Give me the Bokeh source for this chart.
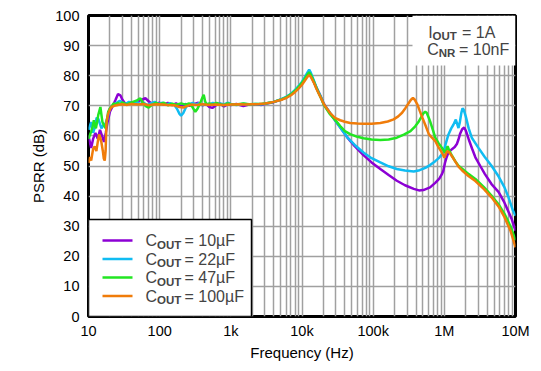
from bokeh.plotting import figure
from bokeh.models import FixedTicker, Label, BoxAnnotation, Range1d
from bokeh.embed import file_html
from bokeh.resources import INLINE

# ---------------- data ----------------
f_10u = [10, 10.9, 11.6, 12.5, 13.5, 14.5, 15.5, 16.5, 17.5, 18.5, 20, 22, 24, 26, 28, 30, 33, 36, 40, 45,
         50, 56, 63, 70, 80, 90, 100, 115, 130, 150, 170, 200, 230, 260, 300, 350, 400, 450, 500, 550,
         620, 700, 800, 900, 1000, 1200, 1500, 1800, 2200, 2700, 3300, 4000, 5000, 6000, 7000, 8000,
         9000, 10000, 11000, 12000, 12600, 13300, 14500, 16000, 18000, 20000, 22500, 25000, 30000,
         35000, 43000, 55000, 73000, 95000, 126000, 165000, 215000, 280000, 372000, 440000, 508000,
         630000, 745000, 850000, 920000, 970000, 1020000, 1080000, 1140000, 1280000, 1400000, 1500000,
         1580000, 1660000, 1780000, 1900000, 2000000, 2200000, 2450000, 2730000, 3200000, 3700000,
         4600000, 5800000, 7000000, 8800000, 10000000]
db_10u = [60, 56, 59, 61, 59, 62, 60, 58, 61, 64.5, 68, 70, 72, 73.9, 73.5, 72, 70.6, 70.8, 71.2, 70.8,
          71.6, 72, 72.5, 71.5, 70.5, 70.8, 71, 70.4, 71, 70.2, 70.8, 69.8, 70.6, 70, 70.5, 71, 70.2, 70.6, 69.6, 69.3,
          70.2, 70.8, 69.8, 70.5, 70.3, 70.6, 69.9, 70.4, 70.5, 70.3, 70.8, 71.2, 72, 72.8, 73.8, 75,
          76.2, 77.5, 79, 80.4, 81, 80.2, 78.2, 76, 73.5, 71, 69, 67.4, 64.8,
          62.6, 59.6, 56.6, 53.6, 51.2, 49, 47, 45.1, 43.6, 42.4, 41.9, 42,
          42.9, 44.4, 45.8, 47.2, 48.5, 51, 53, 54.5, 55.6, 56.3, 57.3,
          58.8, 60.6, 62.2, 62.8, 61.8, 58.9, 55.8, 52.9, 50, 47.4,
          44, 41.3, 37.8, 32.5, 28.5]

f_22u = [10, 10.9, 11.6, 12.3, 13, 13.7, 14.5, 15.2, 16.2, 17.3, 18.3, 19.9, 21.5, 23.4, 25.5, 27.5, 30, 33,
         37, 42, 47, 53, 60, 67, 75, 85, 95, 110, 125, 140, 160, 175, 190, 200, 215, 235, 260, 290, 320,
         360, 400, 450, 500, 560, 630, 700, 800, 900, 1000, 1200, 1500, 1800, 2200, 2700, 3300, 4000,
         5000, 6000, 7000, 8000, 9000, 10000, 11000, 12000, 12600, 13300, 14800, 16000, 17300, 18500,
         20300, 22500, 24900, 30000, 35000, 43000, 55000, 73000, 95000, 126000, 165000, 215000, 280000,
         372000, 450000, 541000, 630000, 745000, 850000, 970000, 1050000, 1140000, 1250000, 1340000,
         1450000, 1520000, 1580000, 1650000, 1730000, 1800000, 1880000, 2000000, 2200000, 2430000,
         3000000, 3700000, 4600000, 5800000, 7000000, 8000000, 9200000, 10000000]
db_22u = [62, 64.6, 61, 62.9, 66, 65.7, 64, 62.5, 63.5, 64, 65.7, 69, 70, 70.6, 71.2, 71.7, 71, 70.6,
          71.3, 70.8, 71.4, 70.6, 71, 70.2, 70.8, 71.3, 70.6, 71, 70.4, 70.9, 70.3, 69, 67.3, 66.7, 67.6, 69.6, 70.5, 71, 70.4,
          70.9, 70.2, 70.8, 70.4, 71, 70.3, 70.8, 70.5, 71, 70.6, 70.3, 70.7, 70.4, 70.6, 70.5, 70.9, 71.3,
          72.1, 73, 74, 75.3, 76.6, 78, 79.6, 81.2, 82, 81, 78.2, 76, 74.3, 72.8,
          70.5, 69, 67.6, 64.8, 62.5, 59.6, 57, 54.5, 52.6, 51.2, 49.9, 49, 48.5,
          48.2, 48.6, 49.4, 50.3, 51.6, 52.8, 54.6, 57.5, 60.4, 62.5, 63.7,
          65.4, 63.8, 62.6, 64.5, 67.5, 69.2, 68.6, 66.5, 62.5, 59.4,
          56.1, 53, 50.1, 46.5, 42.9, 39.5, 35.2, 33.5]

f_47u = [10, 10.9, 11.4, 11.9, 12.3, 12.7, 13.2, 13.7, 14.7, 15.2, 15.7, 16.5, 17.5, 18.2, 18.9, 20, 21, 22.5,
         24, 26, 28, 30, 34, 38, 43, 48, 53.6, 58, 63, 70, 78, 88, 100, 115, 130, 150, 170, 200, 230, 260,
         290, 317, 340, 370, 395, 416, 435, 460, 500, 560, 630, 700, 800, 900, 1000, 1200, 1500, 1800,
         2200, 2700, 3300, 4000, 5000, 6000, 7000, 8000, 9000, 10000, 11000, 12000, 12600, 13300, 14800,
         16000, 17300, 18500, 20300, 22500, 24900, 30000, 34400, 40000, 47500, 60000, 73000, 95000,
         126000, 165000, 215000, 270000, 334000, 390000, 440000, 480000, 508000, 540000, 565000, 600000,
         630000, 690000, 745000, 830000, 920000, 1020000, 1070000, 1110000, 1170000, 1280000, 1430000,
         1580000, 1780000, 2200000, 2730000, 3600000, 4600000, 5800000, 7000000, 8500000, 10000000]
db_47u = [59, 61.4, 63, 65.2, 63.5, 62.5, 64.5, 66.9, 69.6, 67, 64.6, 63.5, 62.5, 65.5, 68, 69.2, 69.6, 70.8,
          70.4, 71, 70.5, 71.2, 70.4, 70.9, 71.4, 71.8, 72.5, 71, 70, 69.4, 70.3, 71, 70.5, 71, 70.2, 70.7, 70.4, 70.8, 70.4, 70.8,
          69.5, 68, 69, 70.8, 72.5, 73.7, 71.5, 70.2, 70.8, 70.4, 71, 70.5, 70.2, 70.8, 70.5, 70.4, 70.8, 70.5,
          70.6, 70.6, 70.9, 71.3, 72, 72.8, 73.8, 75, 76.3, 77.6, 79.1, 80.5, 81.1, 80.3, 77.8,
          75.8, 74, 72.6, 70.3, 68.7, 67.1, 65, 63.3, 61.6, 60.6, 59.7, 59.2, 58.8,
          58.6, 58.8, 59.4, 60.4, 61.6, 63.2, 64.9, 66.5, 67.5, 68, 67.7, 66.2,
          64.9, 62, 59.4, 57.6, 56.1, 54.5, 55.5, 56.6, 55.2, 53.4, 51.5,
          50.1, 49.1, 47.3, 45.7, 43, 40.2, 37.2, 34.1, 30, 25.3]

f_100u = [10, 10.5, 10.9, 11.6, 12.2, 12.9, 13.5, 14.1, 14.6, 15.2, 15.9, 16.4, 16.9, 17.4, 17.9, 18.9, 20, 21,
          23, 25, 27.5, 30, 35, 40, 50, 60, 70, 80, 100, 130, 160, 190, 216, 240, 280, 330, 400, 500, 600,
          800, 1000, 1300, 1600, 2000, 2500, 3000, 3500, 4000, 5000, 6000, 7000, 8000, 9000, 10000, 11000,
          12000, 12600, 13300, 14800, 16000, 17300, 18500, 20300, 22500, 24900, 29000, 34400, 40000, 47500,
          60000, 73000, 95000, 126000, 160000, 194000, 225000, 255000, 285000, 318000, 340000, 362000,
          385000, 417000, 450000, 490000, 541000, 605000, 670000, 745000, 830000, 920000, 1000000, 1050000,
          1100000, 1160000, 1220000, 1400000, 1580000, 1780000, 2200000, 2730000, 3600000, 4600000,
          5800000, 7000000, 8500000, 10000000]
db_100u = [51, 53, 51.8, 55.6, 56.5, 55, 58, 60.5, 59.5, 57.8, 55, 52.5, 51.8, 55, 64.6, 67.4, 68.8, 69.6,
           70, 70.2, 70.4, 70.5, 70.3, 70.6, 70.4, 70.6, 70.2, 70.4, 70.5, 70.3, 70.2, 69.6, 69.4, 69.9, 70.4, 70.3, 70.5, 70.3, 70.4,
           70.3, 70.4, 70.5, 70.4, 70.5, 70.6, 70.8, 71, 71.3, 71.9, 72.6, 73.5, 74.6, 75.8, 77, 78.4,
           79.7, 80.2, 79.6, 77.5, 75.6, 73.9, 72.5, 70.5, 69, 67.6, 66, 65.2, 64.7, 64.3,
           64.1, 64, 64, 64.3, 64.8, 65.5, 66.5, 67.7, 69.3, 71, 72, 72.6,
           72, 70.5, 68.4, 66.1, 63.6, 60.6, 59.4, 58.3, 56.2, 54.5, 52.8, 54,
           55, 54.6, 54, 51.8, 49.8, 48.5, 46.6, 45, 42.3, 39.6,
           36.5, 33, 28.5, 23]

series = [
    ("10\u00b5F", f_10u, db_10u, "#8c00d4"),
    ("22\u00b5F", f_22u, db_22u, "#10bcf2"),
    ("47\u00b5F", f_47u, db_47u, "#22e622"),
    ("100\u00b5F", f_100u, db_100u, "#f07c0a"),
]

x_ticks = [10, 100, 1000, 10000, 100000, 1000000, 10000000]
x_tick_labels = ["10", "100", "1k", "10k", "100k", "1M", "10M"]
y_ticks = [0, 10, 20, 30, 40, 50, 60, 70, 80, 90, 100]
minor_ticks = [d * m for d in x_ticks[:-1] for m in range(2, 10)]

FONT = "Liberation Sans"

p = figure(width=533, height=366, x_axis_type="log",
           x_range=Range1d(10, 1e7), y_range=Range1d(0, 100),
           output_backend="svg", toolbar_location=None,
           min_border_left=88, min_border_right=18, min_border_top=15, min_border_bottom=50)
p.background_fill_color = "white"
p.border_fill_color = "white"
p.outline_line_color = "black"
p.outline_line_width = 3

p.xaxis.ticker = FixedTicker(ticks=x_ticks, minor_ticks=minor_ticks)
p.yaxis.ticker = FixedTicker(ticks=y_ticks)
p.xaxis.major_label_overrides = {t: s for t, s in zip(x_ticks, x_tick_labels)}

for ax in (p.xaxis[0], p.yaxis[0]):
    ax.axis_line_color = None
    ax.major_tick_line_color = None
    ax.minor_tick_line_color = None
    ax.major_tick_out = 0
    ax.major_tick_in = 0
    ax.minor_tick_out = 0
    ax.minor_tick_in = 0
    ax.major_label_text_font = FONT
    ax.major_label_text_font_size = "14.5px"
    ax.major_label_text_color = "black"
    ax.axis_label_text_font = FONT
    ax.axis_label_text_font_size = "15px"
    ax.axis_label_text_font_style = "normal"
    ax.axis_label_text_color = "black"

p.xaxis.axis_label = "Frequency (Hz)"
p.yaxis.axis_label = "PSRR (dB)"
p.xaxis.major_label_standoff = 6
p.yaxis.major_label_standoff = 9
p.xaxis.axis_label_standoff = 2
p.yaxis.axis_label_standoff = 5

GRID = "#a0a0a0"
p.xgrid.grid_line_color = GRID
p.xgrid.grid_line_width = 1.5
p.xgrid.minor_grid_line_color = GRID
p.xgrid.minor_grid_line_width = 1.5
p.ygrid.grid_line_color = GRID
p.ygrid.grid_line_width = 1.5

for name, f, db, col in series:
    p.line(f, db, line_color=col, line_width=2.5)

# ---- legend box (bottom-left), drawn manually to allow subscripts ----
p.add_layout(BoxAnnotation(left=0, right=163, bottom=0, top=97,
                           left_units="screen", right_units="screen",
                           bottom_units="screen", top_units="screen",
                           fill_color="white", fill_alpha=1.0,
                           line_color="black", line_width=1.5, line_alpha=1.0))
row_y = [76, 57.5, 39, 20.5]
for (name, f, db, col), yy in zip(series, row_y):
    p.add_layout(BoxAnnotation(left=14, right=44, bottom=yy - 1.3, top=yy + 1.3,
                               left_units="screen", right_units="screen",
                               bottom_units="screen", top_units="screen",
                               fill_color=col, fill_alpha=1.0, line_color=None))
    p.add_layout(Label(x=57, y=yy, x_units="screen", y_units="screen", text="C",
                       text_font=FONT, text_font_size="16px", text_baseline="middle"))
    p.add_layout(Label(x=68.6, y=yy - 4, x_units="screen", y_units="screen", text="OUT",
                       text_font=FONT, text_font_size="11.5px", text_font_style="bold",
                       text_baseline="middle"))
    p.add_layout(Label(x=96, y=yy, x_units="screen", y_units="screen", text="= " + name,
                       text_font=FONT, text_font_size="16px", text_baseline="middle"))

# ---- condition box (top-right) ----
p.add_layout(BoxAnnotation(left=324, right=427, bottom=251, top=301,
                           left_units="screen", right_units="screen",
                           bottom_units="screen", top_units="screen",
                           fill_color="white", fill_alpha=1.0, line_color=None))
cond = [("I", "OUT", "= 1A", 339.7, 344, 373.5, 283.8),
        ("C", "NR", "= 10nF", 338.7, 350.2, 370.5, 267.2)]
for main, sub, rest, x1, x2, x3, yy in cond:
    p.add_layout(Label(x=x1, y=yy, x_units="screen", y_units="screen", text=main,
                       text_font=FONT, text_font_size="16px", text_baseline="middle"))
    p.add_layout(Label(x=x2, y=yy - 3.6, x_units="screen", y_units="screen", text=sub,
                       text_font=FONT, text_font_size="11.5px", text_font_style="bold",
                       text_baseline="middle"))
    p.add_layout(Label(x=x3, y=yy, x_units="screen", y_units="screen", text=rest,
                       text_font=FONT, text_font_size="16px", text_baseline="middle"))

open("out.html", "w").write(file_html(p, INLINE))
